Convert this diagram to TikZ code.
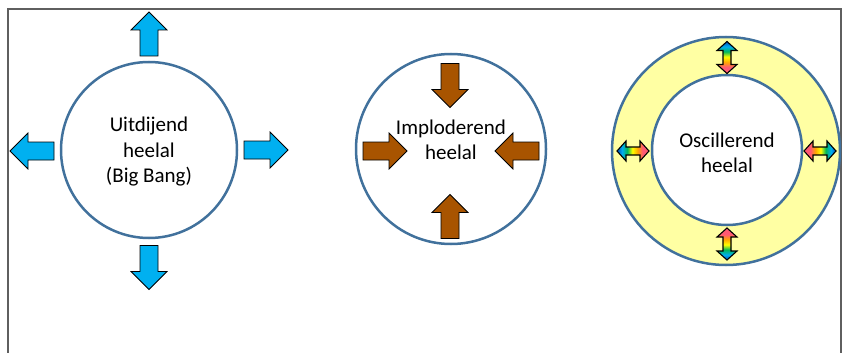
\documentclass[tikz,border=0pt]{standalone}
\usepackage{fontspec}
\setmainfont{Carlito}
\definecolor{ringblue}{RGB}{65,113,156}
\definecolor{arrowblue}{RGB}{0,176,240}
\definecolor{arrowbrown}{RGB}{168,84,0}
\definecolor{ringyellow}{RGB}{255,255,163}
\definecolor{framegray}{RGB}{95,95,95}
\pgfdeclarehorizontalshading{rainbow}{100bp}{rgb(0bp)=(0,0.35,0.75); rgb(26bp)=(0,0.35,0.75);
  rgb(33bp)=(0,0.68,0.94); rgb(41bp)=(0,0.72,0.35); rgb(49bp)=(1,1,0);
  rgb(57bp)=(1,0.66,0); rgb(65bp)=(1,0.35,0.45); rgb(100bp)=(1,0.35,0.45)}
\tikzset{
  blockarrow/.pic={
    \draw [fill=\pgfkeysvalueof{/tikz/arrowfill}, line width=0.8pt, line join=miter]
      (-22,-9) -- (4,-9) -- (4,-18) -- (22,0) -- (4,18) -- (4,9) -- (-22,9) -- cycle;
  },
  hosc/.pic={
    \shade [shading=rainbow, draw=black, line width=1.1pt, line join=miter]
      (-16,0) -- (-7,-10) -- (-7,-4) -- (7,-4) -- (7,-10) -- (16,0) -- (7,10) -- (7,4)
      -- (-7,4) -- (-7,10) -- cycle;
  },
  vosc/.pic={
    \shade [shading=rainbow, draw=black, line width=1.1pt, line join=miter]
      (0,-16) -- (-10,-7) -- (-4,-7) -- (-4,7) -- (-10,7) -- (0,16) -- (10,7) -- (4,7)
      -- (4,-7) -- (10,-7) -- cycle;
  },
  /tikz/arrowfill/.initial=arrowblue
}
\begin{document}
\begin{tikzpicture}
        [x=1pt, y=-1pt,
        ring/.style={circle, draw=ringblue, line width=2.5pt, inner sep=0pt},
        txt/.style={align=center, inner sep=0pt, font=\fontsize{21}{25.5}\selectfont}]
        \useasboundingbox (0,0) rectangle (843,353);
        %Rahmen
        \draw [framegray, line width=1.2pt] (8,353) -- (8,9) -- (841,9) -- (841,353);
        %Uitdijend
        \node [ring, minimum size=176pt] (expand) at (149,150) {};
        \node [txt] (expandtxt) at (149,152) {Uitdijend\\heelal\\(Big Bang)};
        \pic [arrowfill=arrowblue, rotate=90] at (149,34) {blockarrow};
        \pic [arrowfill=arrowblue, rotate=-90] at (149,267.5) {blockarrow};
        \pic [arrowfill=arrowblue, rotate=180] at (32,151) {blockarrow};
        \pic [arrowfill=arrowblue] at (266,150) {blockarrow};
        %Imploderend
        \node [ring, minimum size=190pt] (implode) at (451,149) {};
        \node [txt] (implodetxt) at (451,140) {Imploderend\\heelal};
        \pic [arrowfill=arrowbrown, rotate=-90] at (450,85.5) {blockarrow};
        \pic [arrowfill=arrowbrown, rotate=90] at (450,216.5) {blockarrow};
        \pic [arrowfill=arrowbrown] at (385,151) {blockarrow};
        \pic [arrowfill=arrowbrown, rotate=180] at (517,151) {blockarrow};
        %Oscillerend
        \node [ring, fill=ringyellow, minimum size=228pt] (oscout) at (726,151) {};
        \node [ring, fill=white, minimum size=150pt] (oscin) at (727,150) {};
        \node [txt] (osctxt) at (727,153) {Oscillerend\\heelal};
        \pic [shading angle=-90] at (727,57.5) {vosc};
        \pic [shading angle=90] at (727,244) {vosc};
        \pic [shading angle=0] at (633,151) {hosc};
        \pic [shading angle=180] at (820,151) {hosc};
\end{tikzpicture}
\end{document}
